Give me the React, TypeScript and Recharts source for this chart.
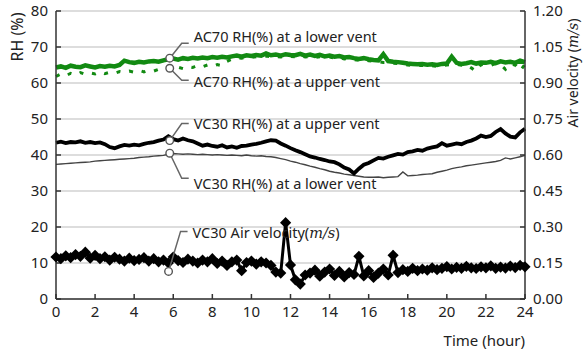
import { ComposedChart, Line, XAxis, YAxis, CartesianGrid, ReferenceDot } from 'recharts';

// time in hours, one sample every 15 min
const HOURS = [
  0, 0.25, 0.5, 0.75, 1, 1.25, 1.5, 1.75, 2, 2.25, 2.5, 2.75, 3, 3.25, 3.5, 3.75,
  4, 4.25, 4.5, 4.75, 5, 5.25, 5.5, 5.75, 6, 6.25, 6.5, 6.75, 7, 7.25, 7.5, 7.75,
  8, 8.25, 8.5, 8.75, 9, 9.25, 9.5, 9.75, 10, 10.25, 10.5, 10.75, 11, 11.25, 11.5, 11.75,
  12, 12.25, 12.5, 12.75, 13, 13.25, 13.5, 13.75, 14, 14.25, 14.5, 14.75, 15, 15.25, 15.5, 15.75,
  16, 16.25, 16.5, 16.75, 17, 17.25, 17.5, 17.75, 18, 18.25, 18.5, 18.75, 19, 19.25, 19.5, 19.75,
  20, 20.25, 20.5, 20.75, 21, 21.25, 21.5, 21.75, 22, 22.25, 22.5, 22.75, 23, 23.25, 23.5, 23.75,
  24,
];

// AC70 RH(%) at a lower vent
const AC70_LOWER = [
  64.3, 64.6, 64.2, 64.8, 64.5, 64.4, 64.9, 64.6, 64.3, 64.7, 64.5, 64.8, 64.6, 65.0, 66.2, 65.8,
  65.6, 65.9, 65.7, 66.0, 66.1, 65.9, 66.3, 66.6, 66.8, 66.5, 66.9, 66.7, 67.0, 66.8, 67.1, 66.9,
  67.2, 67.0, 67.3, 67.1, 67.4, 67.6, 67.3, 67.7, 67.5, 67.8, 67.6, 68.2, 67.7, 67.9, 67.6, 68.0,
  67.8, 67.7, 68.1, 67.6, 67.9, 67.5, 67.8, 67.4, 67.6, 67.3, 67.5, 67.1, 67.2, 66.9, 66.7, 66.9,
  66.6, 66.4, 66.3, 68.0, 66.1, 65.9, 65.8, 65.6, 65.4, 65.3, 65.2, 65.3, 65.1, 65.2, 65.0, 65.3,
  65.4, 67.3, 65.6, 65.3, 65.5, 65.8, 65.4, 65.7, 65.6, 65.9, 65.5, 66.0, 65.7, 65.9, 65.6, 66.2,
  65.8,
];

// AC70 RH(%) at a upper vent
const AC70_UPPER = [
  61.8, 62.5, 62.0, 62.7, 62.2, 62.9, 62.4, 62.8, 62.5, 63.1, 62.6, 63.0, 62.7, 63.2, 62.9, 63.3,
  63.0, 63.5, 63.1, 63.6, 63.3, 63.8, 63.5, 64.0, 64.1, 64.4, 64.0, 64.6, 64.3, 64.9, 64.5, 65.0,
  64.6, 65.1, 64.8, 66.0, 66.6, 67.0, 66.9, 67.2, 67.1, 67.3, 67.2, 67.5, 67.3, 67.4, 67.2, 67.5,
  67.4, 67.3, 67.6, 67.2, 67.4, 67.1, 67.3, 67.0, 67.2, 66.9, 67.0, 66.7, 66.8, 66.5, 66.3, 66.5,
  66.2, 66.0, 65.9, 65.7, 65.7, 65.5, 65.4, 65.2, 65.0, 64.9, 64.8, 64.9, 64.7, 64.8, 64.6, 64.9,
  65.0, 65.1, 65.2, 64.9, 65.0, 64.2, 63.3, 65.1, 65.2, 64.9, 65.4, 65.1, 63.8, 65.3, 65.0, 63.4,
  65.2,
];

// VC30 RH(%) at a upper vent
const VC30_UPPER = [
  43.4, 43.7, 43.3, 43.6, 43.5, 43.8, 43.4, 43.6, 43.3, 43.5, 43.0, 42.2, 41.9, 42.4, 42.8, 42.6,
  42.9, 42.7, 43.1, 43.4, 43.6, 44.0, 44.3, 45.2, 44.4, 44.0, 44.6, 44.1, 43.8, 43.2, 42.6, 42.9,
  42.5, 42.3, 42.7, 42.1, 42.4, 42.0, 42.5, 42.6, 42.9, 43.1, 43.4, 43.8, 44.1, 44.0, 43.2, 42.6,
  41.9, 41.3, 40.8, 40.2, 39.6, 39.3, 38.9, 38.6, 38.2, 38.0, 37.4, 36.5, 36.0, 34.9, 36.2, 37.3,
  37.8, 38.5, 39.2, 39.0, 39.5, 39.9, 40.3, 40.1, 40.8, 41.0, 41.4, 41.2, 41.8, 42.1, 42.4, 43.3,
  42.6, 42.9, 43.2, 43.0, 43.6, 44.0, 44.6, 45.4, 45.0, 45.3, 46.4, 47.2, 46.0, 45.1, 44.9, 46.3,
  47.3,
];

// VC30 RH(%) at a lower vent
const VC30_LOWER = [
  37.4, 37.5, 37.6, 37.7, 37.8, 37.9, 38.0, 38.1, 38.3, 38.4, 38.5, 38.6, 38.7, 38.8, 38.9, 39.0,
  39.1, 39.3, 39.4, 39.5, 39.7, 39.8, 39.9, 40.2, 40.4, 40.3, 40.2, 40.3, 40.2, 40.1, 40.2, 40.1,
  40.0, 40.1, 40.0, 39.9, 40.0, 39.9, 39.8, 40.0, 39.8, 39.7, 39.8, 39.6, 39.5, 39.3, 39.0, 38.7,
  38.3, 38.0, 37.6, 37.3, 36.9, 36.6, 36.2, 35.9, 35.5, 35.2, 35.0, 34.7, 34.5, 34.3, 34.1, 33.9,
  33.8, 33.8, 33.9, 33.7, 33.8, 33.9, 34.0, 35.3, 34.2, 34.3, 34.4, 34.6, 34.7, 34.8, 35.2, 35.5,
  35.8, 36.2, 36.5, 36.7, 37.0, 37.2, 37.4, 37.6, 37.8, 38.0, 38.2, 38.5, 39.2, 38.9, 39.2, 39.5,
  39.9,
];

// VC30 air velocity (m/s), right axis
const VC30_AIR = [
  0.175, 0.168, 0.18, 0.172, 0.185, 0.178, 0.195, 0.17, 0.182, 0.168, 0.176, 0.162, 0.174, 0.166, 0.158, 0.17,
  0.16, 0.165, 0.172, 0.158, 0.168, 0.155, 0.162, 0.15, 0.175, 0.16, 0.152, 0.166, 0.158, 0.15, 0.162, 0.155,
  0.168, 0.148, 0.158, 0.14, 0.155, 0.162, 0.118, 0.152, 0.158, 0.145, 0.155, 0.15, 0.14, 0.112, 0.108, 0.318,
  0.142, 0.08, 0.062, 0.1, 0.108, 0.12, 0.095, 0.112, 0.125, 0.098, 0.115, 0.092, 0.11, 0.102, 0.178, 0.096,
  0.118, 0.09, 0.108, 0.125, 0.1, 0.182, 0.11, 0.122, 0.115, 0.128, 0.118, 0.125, 0.12, 0.13, 0.122, 0.128,
  0.135, 0.125, 0.132, 0.128, 0.136, 0.13, 0.127, 0.134, 0.13, 0.138, 0.128, 0.133, 0.129, 0.137, 0.131, 0.14,
  0.134,
];

const X_TICKS = [0, 2, 4, 6, 8, 10, 12, 14, 16, 18, 20, 22, 24];
const RH_TICKS = [0, 10, 20, 30, 40, 50, 60, 70, 80];
const AIR_TICKS = [0, 0.15, 0.3, 0.45, 0.6, 0.75, 0.9, 1.05, 1.2];

// annotation anchors (hour, value on its axis) and label text
const CALLOUTS = [
  { x: 5.82, y: 66.9, axis: 'rh', text: 'AC70 RH(%) at a lower vent', lead: -15, shift: -6 },
  { x: 5.82, y: 64.1, axis: 'rh', text: 'AC70 RH(%) at a upper vent', lead: 12, shift: 2 },
  { x: 5.82, y: 44.0, axis: 'rh', text: 'VC30 RH(%) at a upper vent', lead: -17, shift: 0 },
  { x: 5.82, y: 40.5, axis: 'rh', text: 'VC30 RH(%) at a lower vent', lead: 25, shift: 6 },
  { x: 5.76, y: 0.115, axis: 'air', text: 'VC30 Air velocity(', math: 'm/s', lead: -40, shift: 2 },
];

const data = HOURS.map((h, i) => ({
  h,
  ac70Lower: AC70_LOWER[i],
  ac70Upper: AC70_UPPER[i],
  vc30Upper: VC30_UPPER[i],
  vc30Lower: VC30_LOWER[i],
  air: VC30_AIR[i],
}));

const FONT = '"Noto Sans", "DejaVu Sans", sans-serif';
const MATH = '"DejaVu Serif", "Liberation Serif", serif';
const INK = '#222';
const AXIS = '#333';
const GREEN = '#128a12';

const tickStyle = { fontSize: 15, fill: INK, fontFamily: FONT };

function Diamond(props: any) {
  const { cx, cy } = props;
  if (cx == null || cy == null) return <g />;
  const s = 5.6;
  return (
    <polygon
      points={`${cx},${cy - s} ${cx + s},${cy} ${cx},${cy + s} ${cx - s},${cy}`}
      fill="#000"
    />
  );
}

function Callout(props: any) {
  const { cx, cy, text, math, lead, shift } = props;
  const ex = cx + 12;
  const ey = cy + lead;
  return (
    <g>
      <polyline
        points={`${cx},${cy} ${ex},${ey} ${ex + 7},${ey}`}
        fill="none"
        stroke="#666"
        strokeWidth={1.5}
      />
      <circle cx={cx} cy={cy} r={3.8} fill="#fff" stroke="#555" strokeWidth={1.4} />
      <text x={cx + 24} y={ey + shift} dy="0.35em" fontSize={14.5} fill={INK} fontFamily={FONT}>
        {text}
        {math && (
          <tspan fontFamily={MATH} fontStyle="italic">
            {math}
          </tspan>
        )}
        {math && ')'}
      </text>
    </g>
  );
}

export default function App() {
  return (
    <div style={{ position: 'absolute', left: 0, top: 0, width: 584, height: 351, background: '#fff' }}>
      <ComposedChart width={584} height={351} data={data} margin={{ top: 11, right: 0, bottom: 0, left: 0 }}>
        <CartesianGrid yAxisId="rh" vertical={false} stroke="#d2d2d2" strokeWidth={1.5} />
        <XAxis
          dataKey="h"
          type="number"
          domain={[0, 24]}
          ticks={X_TICKS}
          interval={0}
          height={52}
          tick={tickStyle}
          tickSize={-5}
          tickMargin={12}
          stroke={AXIS}
          strokeWidth={1.5}
          label={(p: any) => {
            const vb = p.viewBox || { x: 56, y: 299, width: 469 };
            return (
              <text x={vb.x + vb.width} y={vb.y + 42} dy="0.35em" textAnchor="end" fontSize={15} fill={INK} fontFamily={FONT}>
                Time (hour)
              </text>
            );
          }}
        />
        <YAxis
          yAxisId="rh"
          orientation="left"
          width={56}
          domain={[0, 80]}
          ticks={RH_TICKS}
          interval={0}
          tick={tickStyle}
          tickSize={-5}
          tickMargin={13}
          stroke={AXIS}
          strokeWidth={1.5}
          label={(p: any) => {
            const vb = p.viewBox || { x: 0, y: 11 };
            return (
              <text
                x={vb.x + 17}
                y={vb.y + 26}
                transform={`rotate(-90 ${vb.x + 17} ${vb.y + 26})`}
                dy="0.35em"
                textAnchor="middle"
                fontSize={16}
                fill={INK}
                fontFamily={FONT}
              >
                RH (%)
              </text>
            );
          }}
        />
        <YAxis
          yAxisId="air"
          orientation="right"
          width={59}
          domain={[0, 1.2]}
          ticks={AIR_TICKS}
          interval={0}
          tick={tickStyle}
          tickSize={-5}
          tickMargin={13}
          tickFormatter={(v: number) => v.toFixed(2)}
          stroke={AXIS}
          strokeWidth={1.5}
          label={(p: any) => {
            const vb = p.viewBox || { x: 525, y: 11 };
            const lx = vb.x + 48;
            const ly = vb.y + 62;
            return (
              <text
                x={lx}
                y={ly}
                transform={`rotate(-90 ${lx} ${ly})`}
                dy="0.35em"
                textAnchor="middle"
                fontSize={14}
                fill={INK}
                fontFamily={FONT}
              >
                Air velocity (
                <tspan fontFamily={MATH} fontStyle="italic">
                  m/s
                </tspan>
                )
              </text>
            );
          }}
        />

        <Line
          yAxisId="rh"
          dataKey="ac70Upper"
          stroke={GREEN}
          strokeWidth={3}
          strokeDasharray="4 9"
          dot={false}
          isAnimationActive={false}
        />
        <Line yAxisId="rh" dataKey="ac70Lower" stroke={GREEN} strokeWidth={4.5} dot={false} isAnimationActive={false} />
        <Line yAxisId="rh" dataKey="vc30Lower" stroke="#444" strokeWidth={1.4} dot={false} isAnimationActive={false} />
        <Line yAxisId="rh" dataKey="vc30Upper" stroke="#000" strokeWidth={3.8} dot={false} isAnimationActive={false} />
        <Line
          yAxisId="air"
          dataKey="air"
          stroke="#000"
          strokeWidth={3}
          dot={(p: any) => <Diamond key={p.index} {...p} />}
          isAnimationActive={false}
        />

        {CALLOUTS.map((c, i) => (
          <ReferenceDot
            key={i}
            x={c.x}
            y={c.y}
            yAxisId={c.axis}
            r={4}
            shape={(p: any) => <Callout {...p} text={c.text} math={c.math} lead={c.lead} shift={c.shift} />}
          />
        ))}
      </ComposedChart>
    </div>
  );
}
